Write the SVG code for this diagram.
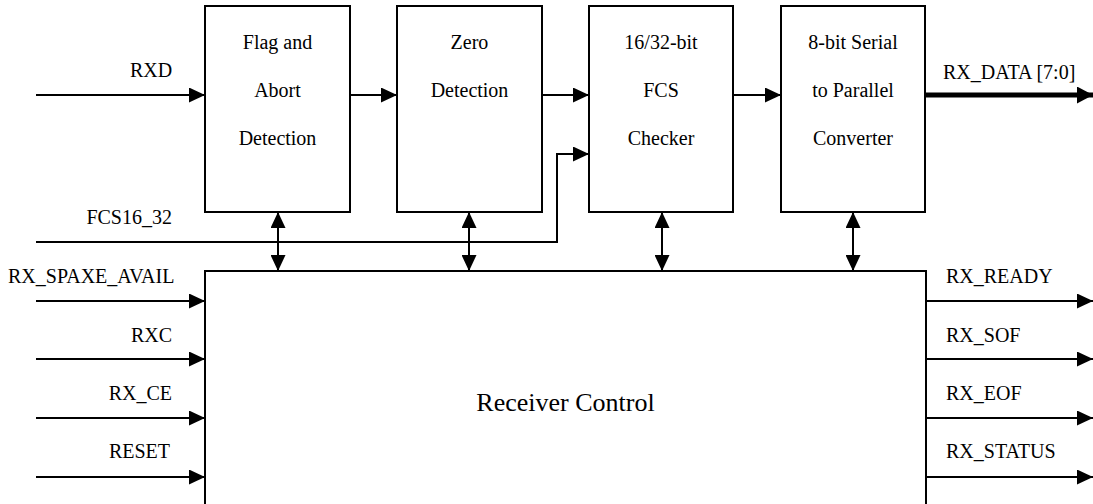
<svg xmlns="http://www.w3.org/2000/svg" width="1093" height="504" viewBox="0 0 1093 504">
  <style>
    .box { fill: #ffffff; stroke: #000000; stroke-width: 2; }
    .t { font-family: "Liberation Serif", "Times New Roman", serif; font-size: 20px; fill: #000000; }
    .c { text-anchor: middle; }
    .e { text-anchor: end; }
    .big { font-size: 26px; }
    .w { fill: none; stroke: #000000; stroke-width: 2; }
    .thick { fill: none; stroke: #000000; stroke-width: 5; }
  </style>
  <defs>
    <marker id="ah" markerUnits="userSpaceOnUse" markerWidth="16" markerHeight="15" refX="16" refY="7.5" orient="auto-start-reverse">
      <path d="M0,0 L16,7.5 L0,15 z" fill="#000000"/>
    </marker>
    <marker id="ahb" markerUnits="userSpaceOnUse" markerWidth="16" markerHeight="17" refX="16" refY="8.5" orient="auto">
      <path d="M0,0 L16,8.5 L0,17 z" fill="#000000"/>
    </marker>
  </defs>
  <rect width="1093" height="504" fill="#ffffff"/>

  <g id="flag">
    <rect class="box" x="205" y="6" width="145" height="206"/>
    <text class="t c" x="277.5" y="49">Flag and</text>
    <text class="t c" x="277.5" y="97">Abort</text>
    <text class="t c" x="277.5" y="145">Detection</text>
  </g>
  <g id="zero">
    <rect class="box" x="397" y="6" width="145" height="206"/>
    <text class="t c" x="469.5" y="49">Zero</text>
    <text class="t c" x="469.5" y="97">Detection</text>
  </g>
  <g id="fcs">
    <rect class="box" x="589" y="6" width="144" height="206"/>
    <text class="t c" x="661" y="49">16/32-bit</text>
    <text class="t c" x="661" y="97">FCS</text>
    <text class="t c" x="661" y="145">Checker</text>
  </g>
  <g id="s2p">
    <rect class="box" x="781" y="6" width="144" height="206"/>
    <text class="t c" x="853" y="49">8-bit Serial</text>
    <text class="t c" x="853" y="97">to Parallel</text>
    <text class="t c" x="853" y="145">Converter</text>
  </g>
  <g id="ctrl">
    <rect class="box" x="205" y="271" width="721" height="260"/>
    <text class="t c big" x="565.5" y="411">Receiver Control</text>
  </g>

  <g id="connectors">
    <line class="w" x1="36" y1="95" x2="205" y2="95" marker-end="url(#ah)"/>
    <line class="w" x1="350" y1="95" x2="397" y2="95" marker-end="url(#ah)"/>
    <line class="w" x1="542" y1="95" x2="589" y2="95" marker-end="url(#ah)"/>
    <line class="w" x1="733" y1="95" x2="781" y2="95" marker-end="url(#ah)"/>
    <line class="thick" x1="925" y1="95" x2="1093" y2="95" marker-end="url(#ahb)"/>
    <path class="w" d="M36,242 H557 V154 H589" marker-end="url(#ah)"/>

    <line class="w" x1="278" y1="212" x2="278" y2="271" marker-start="url(#ah)" marker-end="url(#ah)"/>
    <line class="w" x1="469" y1="212" x2="469" y2="271" marker-start="url(#ah)" marker-end="url(#ah)"/>
    <line class="w" x1="662" y1="212" x2="662" y2="271" marker-start="url(#ah)" marker-end="url(#ah)"/>
    <line class="w" x1="853" y1="212" x2="853" y2="271" marker-start="url(#ah)" marker-end="url(#ah)"/>

    <line class="w" x1="36" y1="301" x2="205" y2="301" marker-end="url(#ah)"/>
    <line class="w" x1="36" y1="359" x2="205" y2="359" marker-end="url(#ah)"/>
    <line class="w" x1="36" y1="418" x2="205" y2="418" marker-end="url(#ah)"/>
    <line class="w" x1="36" y1="477" x2="205" y2="477" marker-end="url(#ah)"/>

    <line class="w" x1="926" y1="301" x2="1093" y2="301" marker-end="url(#ah)"/>
    <line class="w" x1="926" y1="359" x2="1093" y2="359" marker-end="url(#ah)"/>
    <line class="w" x1="926" y1="418" x2="1093" y2="418" marker-end="url(#ah)"/>
    <line class="w" x1="926" y1="477" x2="1093" y2="477" marker-end="url(#ah)"/>
  </g>

  <g id="labels">
    <text class="t c" x="151" y="77">RXD</text>
    <text class="t" x="943" y="79">RX_DATA [7:0]</text>
    <text class="t e" x="172" y="224">FCS16_32</text>
    <text class="t" x="8" y="283">RX_SPAXE_AVAIL</text>
    <text class="t e" x="172" y="342">RXC</text>
    <text class="t e" x="172" y="400">RX_CE</text>
    <text class="t e" x="170" y="458">RESET</text>
    <text class="t" x="946" y="283">RX_READY</text>
    <text class="t" x="946" y="342">RX_SOF</text>
    <text class="t" x="946" y="400">RX_EOF</text>
    <text class="t" x="946" y="458">RX_STATUS</text>
  </g>
</svg>
